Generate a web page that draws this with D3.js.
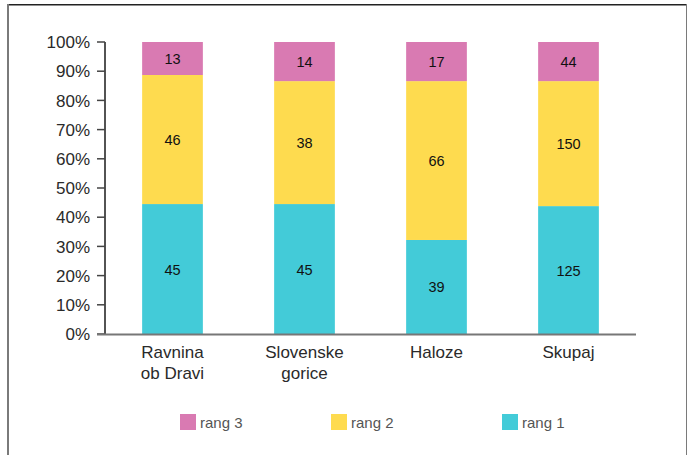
<!DOCTYPE html>
<html>
<head>
<meta charset="utf-8">
<style>
  html, body {
    margin: 0;
    padding: 0;
    background: #fff;
  }
  svg {
    display: block;
    font-family: "Liberation Sans", Arial, sans-serif;
  }
  .frame-top { stroke: #222; stroke-width: 1.5; }
  .frame-side { stroke: #7a7a7a; }
  .tick-label { font-size: 17px; fill: #2a2a2a; }
  .cat-label { font-size: 17px; fill: #2a2a2a; }
  .val-label { font-size: 14.5px; fill: #111; }
  .legend-label { font-size: 15px; fill: #555; }
</style>
<script src="https://cdn.jsdelivr.net/npm/d3@7"></script>
</head>
<body>
<div id="chart"></div>
<script>
  // categories (two-line labels)
  var categories = ['Ravnina ob Dravi', 'Slovenske gorice', 'Haloze', 'Skupaj'];
  var categoryLines = [['Ravnina', 'ob Dravi'], ['Slovenske', 'gorice'], ['Haloze'], ['Skupaj']];

  // counts printed in the segments
  var rang1Counts = [45, 45, 39, 125];
  var rang2Counts = [46, 38, 66, 150];
  var rang3Counts = [13, 14, 17, 44];

  // segment shares (%) as drawn in the chart
  var rang1Share = [44.5, 44.5, 32.2, 43.8];
  var rang2Share = [44.2, 42.1, 54.4, 42.8];
  var rang3Share = [11.3, 13.4, 13.4, 13.4];

  var yTicks = [0, 10, 20, 30, 40, 50, 60, 70, 80, 90, 100];

  var seriesNames = ['rang 1', 'rang 2', 'rang 3'];
  var legendOrder = ['rang 3', 'rang 2', 'rang 1'];
  var colors = { 'rang 1': '#43cbd8', 'rang 2': '#fedb4f', 'rang 3': '#d97ab2' };

  var W = 687, H = 455;
  var svg = d3.select('#chart').append('svg')
    .attr('width', W)
    .attr('height', H);

  // frame
  svg.append('line').attr('class', 'frame-top')
    .attr('x1', 7).attr('x2', 687).attr('y1', 4.75).attr('y2', 4.75);
  svg.append('line').attr('class', 'frame-side').attr('stroke-width', 2)
    .attr('x1', 8).attr('x2', 8).attr('y1', 4).attr('y2', H);
  svg.append('line').attr('class', 'frame-side').attr('stroke-width', 1)
    .attr('x1', 686.5).attr('x2', 686.5).attr('y1', 4).attr('y2', H);

  var table = categories.map(function(c, i) {
    return {
      cat: c,
      lines: categoryLines[i],
      'rang 1': rang1Share[i], 'rang 2': rang2Share[i], 'rang 3': rang3Share[i],
      counts: { 'rang 1': rang1Counts[i], 'rang 2': rang2Counts[i], 'rang 3': rang3Counts[i] }
    };
  });

  var x = d3.scaleBand()
    .domain(categories)
    .range([106.5, 634.5])
    .paddingInner(0.54)
    .paddingOuter(0.27);

  var y = d3.scaleLinear()
    .domain([0, 100])
    .range([334, 42]);

  var stack = d3.stack().keys(seriesNames);
  var layers = stack(table);

  // y axis
  var yAxis = svg.append('g');
  yAxis.append('line')
    .attr('x1', 105).attr('x2', 105)
    .attr('y1', y(100)).attr('y2', y(0))
    .attr('stroke', '#1a1a1a').attr('stroke-width', 1.5);
  yAxis.selectAll('.tick')
    .data(yTicks)
    .enter().append('line')
    .attr('x1', 97).attr('x2', 105)
    .attr('y1', function(d) { return y(d); })
    .attr('y2', function(d) { return y(d); })
    .attr('stroke', '#444').attr('stroke-width', 1.5);
  yAxis.selectAll('.tick-label')
    .data(yTicks)
    .enter().append('text')
    .attr('class', 'tick-label')
    .attr('x', 90)
    .attr('y', function(d) { return y(d); })
    .attr('dy', '0.36em')
    .attr('text-anchor', 'end')
    .text(function(d) { return d + '%'; });

  // bars
  var layer = svg.selectAll('.layer')
    .data(layers)
    .enter().append('g')
    .attr('fill', function(d) { return colors[d.key]; });

  layer.selectAll('rect')
    .data(function(d) { return d; })
    .enter().append('rect')
    .attr('x', function(d) { return x(d.data.cat); })
    .attr('width', x.bandwidth())
    .attr('y', function(d) { return y(d[1]); })
    .attr('height', function(d) { return y(d[0]) - y(d[1]); });

  // value labels
  layers.forEach(function(l) {
    svg.append('g').selectAll('text')
      .data(l)
      .enter().append('text')
      .attr('class', 'val-label')
      .attr('x', function(d) { return x(d.data.cat) + x.bandwidth() / 2; })
      .attr('y', function(d) { return (y(d[0]) + y(d[1])) / 2; })
      .attr('dy', '0.38em')
      .attr('text-anchor', 'middle')
      .text(function(d) { return d.data.counts[l.key]; });
  });

  // x baseline
  svg.append('line')
    .attr('x1', 97).attr('x2', 636)
    .attr('y1', y(0) + 0.5).attr('y2', y(0) + 0.5)
    .attr('stroke', '#777').attr('stroke-width', 2);

  // category labels
  var catLabel = svg.selectAll('.cat-label')
    .data(table)
    .enter().append('text')
    .attr('class', 'cat-label')
    .attr('text-anchor', 'middle')
    .attr('x', function(d) { return x(d.cat) + x.bandwidth() / 2; })
    .attr('y', 358);
  catLabel.selectAll('tspan')
    .data(function(d) { return d.lines.map(function(t) { return { t: t, cx: x(d.cat) + x.bandwidth() / 2 }; }); })
    .enter().append('tspan')
    .attr('x', function(d) { return d.cx; })
    .attr('dy', function(d, i) { return i ? 21 : 0; })
    .text(function(d) { return d.t; });

  // legend
  var legendX = [180, 331, 502];
  var legend = svg.selectAll('.legend')
    .data(legendOrder)
    .enter().append('g')
    .attr('transform', function(d, i) { return 'translate(' + legendX[i] + ',414)'; });
  legend.append('rect')
    .attr('width', 16).attr('height', 16)
    .attr('fill', function(d) { return colors[d]; });
  legend.append('text')
    .attr('class', 'legend-label')
    .attr('x', 20).attr('y', 13.5)
    .text(function(d) { return d; });
</script>
</body>
</html>
